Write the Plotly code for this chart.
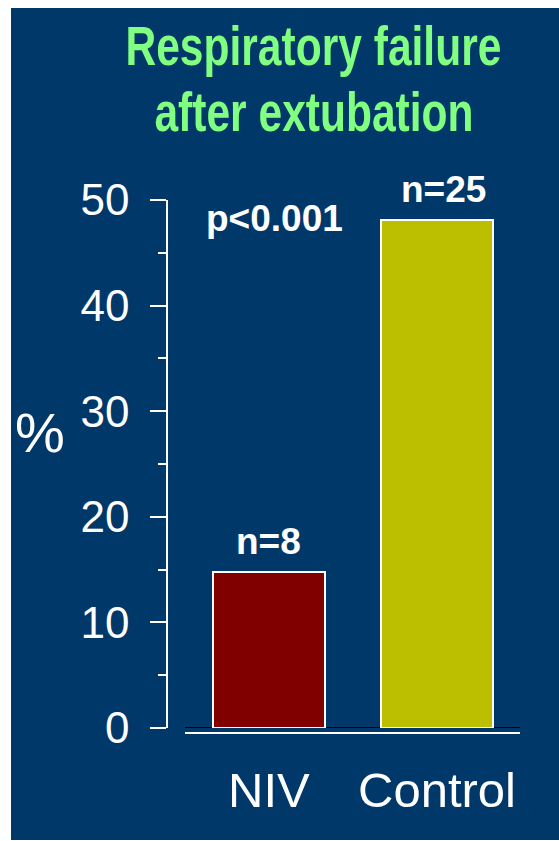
import plotly.graph_objects as go

# Data
groups = ["NIV", "Control"]
failure_pct = [14.8, 48.1]
group_n = ["n=8", "n=25"]
bar_colors = ["#800000", "#bbbf00"]
p_value_text = "p<0.001"
y_ticks = [0, 10, 20, 30, 40, 50]
title_lines = ["Respiratory failure", "after extubation"]

BG = "#01386a"
WHITE = "#ffffff"
GREEN = "#80ff80"
FONT = "Liberation Sans, Arial, sans-serif"

# Plot-area geometry in pixels (used to place paper-referenced items)
L, R, T, B = 168, 39, 200, 113
W, H = 559, 841
PW, PH = W - L - R, H - T - B


def px_x(px):
    return (px - L) / PW


def px_y(py):
    return (H - B - py) / PH


xpos = list(range(len(groups)))
n_label_xshift = [0, 6]

fig = go.Figure()

# Dark panel behind the whole chart
fig.add_shape(type="rect", xref="paper", yref="paper", layer="below",
              x0=px_x(11), x1=px_x(W), y0=px_y(840), y1=px_y(8),
              fillcolor=BG, line=dict(width=0))

fig.add_trace(go.Bar(
    x=xpos, y=failure_pct, width=0.667,
    marker=dict(color=bar_colors, line=dict(color=WHITE, width=2)),
    hoverinfo="skip",
))

# Sample size labels above each bar
for xi, yi, n, dx in zip(xpos, failure_pct, group_n, n_label_xshift):
    fig.add_annotation(x=xi, y=yi, text=f"<b>{n}</b>", showarrow=False,
                       xanchor="center", yanchor="bottom", yshift=8, xshift=dx,
                       font=dict(family=FONT, size=37, color=WHITE))

# Category labels under the axis
for xi, g in zip(xpos, groups):
    fig.add_annotation(x=xi, xref="x", yref="paper", y=px_y(790), text=g,
                       showarrow=False, xanchor="center", yanchor="middle",
                       font=dict(family=FONT, size=49, color=WHITE))

fig.add_annotation(x=0.033, y=px_y(218), yref="paper",
                   text=f"<b>{p_value_text}</b>", showarrow=False,
                   xanchor="center", yanchor="middle",
                   font=dict(family=FONT, size=37, color=WHITE))

# Axis unit
fig.add_annotation(xref="paper", yref="paper", x=px_x(40), y=px_y(432), text="%",
                   showarrow=False, xanchor="center", yanchor="middle",
                   font=dict(family=FONT, size=56, color=WHITE))

# Title (two lines, condensed below via post_script)
for line, ypx in zip(title_lines, [46, 111]):
    fig.add_annotation(xref="paper", yref="paper", x=px_x(313.5), y=px_y(ypx),
                       text=f"<b>{line}</b>", showarrow=False,
                       xanchor="center", yanchor="middle",
                       font=dict(family=FONT, size=56, color=GREEN))

# Baseline: black line at zero with a white line just below
fig.add_shape(type="line", xref="paper", yref="y", x0=px_x(185), x1=px_x(520),
              y0=0, y1=0, line=dict(color="#000000", width=2), layer="below")
fig.add_shape(type="line", xref="paper", yref="paper", x0=px_x(185), x1=px_x(520),
              y0=px_y(733), y1=px_y(733), line=dict(color=WHITE, width=2))

fig.update_layout(
    width=W, height=H,
    paper_bgcolor=WHITE, plot_bgcolor=BG,
    margin=dict(l=L, r=R, t=T, b=B),
    showlegend=False,
    bargap=0,
    xaxis=dict(range=[-0.601, 1.494], showticklabels=False, showgrid=False,
               zeroline=False, showline=False, ticks="", fixedrange=True),
    yaxis=dict(range=[0, 50], tickvals=y_ticks, showgrid=False, zeroline=False,
               showline=True, linecolor=WHITE, linewidth=1.5,
               ticks="outside", ticklen=16, tickwidth=1.5, tickcolor=WHITE,
               ticklabelstandoff=12,
               minor=dict(dtick=5, ticks="outside", ticklen=8, tickwidth=1.5,
                          tickcolor=WHITE),
               tickfont=dict(family=FONT, size=44, color=WHITE)),
)

# Narrow the title lines horizontally around their own centres
condense_title = """
var gd = document.getElementById('{plot_id}');
var keys = %s;
gd.querySelectorAll('text.annotation-text').forEach(function (t) {
  var s = t.textContent;
  if (keys.some(function (k) { return s.indexOf(k) >= 0; })) {
    var bb = t.getBBox();
    var cx = bb.x + bb.width / 2;
    var prev = t.getAttribute('transform') || '';
    t.setAttribute('transform', prev + ' translate(' + cx + ',0) scale(0.76,1) translate(' + (-cx) + ',0)');
  }
});
""" % str(title_lines).replace("'", '"')

fig.write_html("out.html", post_script=condense_title)
